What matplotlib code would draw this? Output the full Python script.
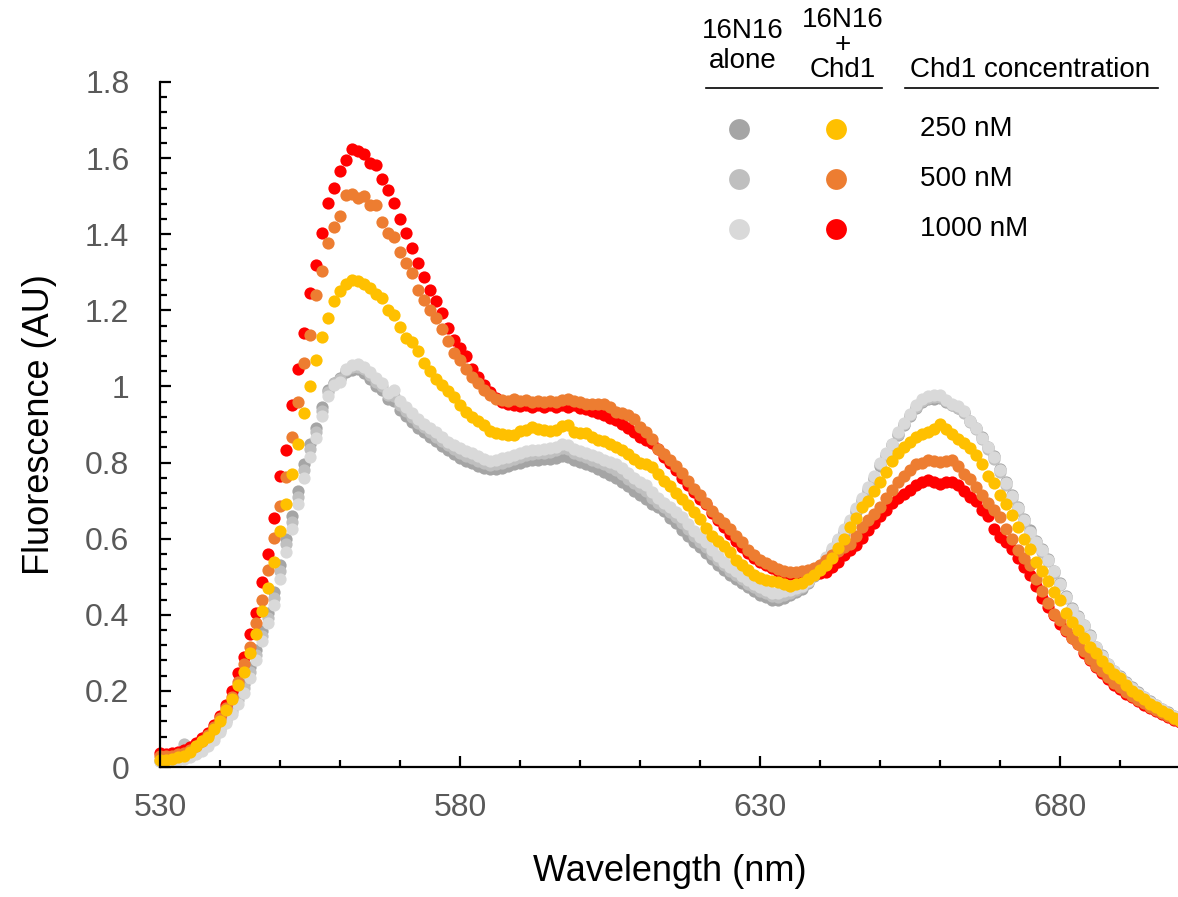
import matplotlib
matplotlib.use("Agg")
import matplotlib.pyplot as plt
from matplotlib.ticker import MultipleLocator, FixedLocator, FuncFormatter
from matplotlib.lines import Line2D

plt.rcParams['font.family'] = ['Liberation Sans', 'DejaVu Sans']

wavelength = list(range(530, 701))
x_major_ticks = [530, 580, 630, 680]

alone_250 = [0.017, 0.016, 0.018, 0.022, 0.026, 0.031, 0.038, 0.049, 0.064, 0.083,
             0.104, 0.128, 0.155, 0.183, 0.218, 0.262, 0.308, 0.358, 0.405, 0.460,
             0.530, 0.598, 0.660, 0.725, 0.795, 0.848, 0.892, 0.945, 0.990, 1.010,
             1.022, 1.038, 1.044, 1.045, 1.036, 1.020, 1.002, 0.990, 0.968, 0.962,
             0.938, 0.922, 0.906, 0.892, 0.880, 0.868, 0.856, 0.844, 0.832, 0.822,
             0.811, 0.804, 0.798, 0.792, 0.786, 0.782, 0.784, 0.785, 0.790, 0.795,
             0.800, 0.805, 0.807, 0.808, 0.809, 0.810, 0.813, 0.818, 0.815, 0.806,
             0.802, 0.796, 0.790, 0.783, 0.776, 0.768, 0.760, 0.750, 0.738, 0.725,
             0.714, 0.704, 0.690, 0.684, 0.672, 0.655, 0.640, 0.624, 0.606, 0.590,
             0.579, 0.563, 0.547, 0.532, 0.518, 0.505, 0.493, 0.483, 0.472, 0.462,
             0.453, 0.446, 0.440, 0.439, 0.444, 0.452, 0.460, 0.468, 0.484, 0.502,
             0.522, 0.545, 0.567, 0.592, 0.616, 0.640, 0.670, 0.698, 0.726, 0.756,
             0.790, 0.818, 0.845, 0.872, 0.898, 0.922, 0.943, 0.958, 0.966, 0.968,
             0.970, 0.960, 0.952, 0.944, 0.932, 0.910, 0.892, 0.868, 0.842, 0.816,
             0.782, 0.748, 0.715, 0.683, 0.652, 0.622, 0.594, 0.572, 0.546, 0.516,
             0.484, 0.450, 0.418, 0.397, 0.374, 0.346, 0.316, 0.293, 0.271, 0.253,
             0.238, 0.223, 0.209, 0.196, 0.184, 0.173, 0.163, 0.153, 0.144, 0.135,
             0.126]

alone_500 = [0.016, 0.015, 0.017, 0.020, 0.060, 0.029, 0.036, 0.046, 0.060, 0.078,
             0.098, 0.122, 0.148, 0.175, 0.208, 0.250, 0.295, 0.345, 0.392, 0.445,
             0.515, 0.585, 0.645, 0.710, 0.780, 0.835, 0.880, 0.935, 0.985, 1.008,
             1.020, 1.042, 1.050, 1.052, 1.045, 1.030, 1.012, 1.000, 0.978, 0.975,
             0.950, 0.935, 0.920, 0.905, 0.893, 0.880, 0.868, 0.856, 0.845, 0.835,
             0.826, 0.818, 0.812, 0.805, 0.798, 0.793, 0.796, 0.800, 0.805, 0.810,
             0.815, 0.820, 0.822, 0.824, 0.826, 0.828, 0.832, 0.838, 0.835, 0.826,
             0.820, 0.815, 0.808, 0.802, 0.795, 0.788, 0.780, 0.770, 0.758, 0.745,
             0.735, 0.724, 0.708, 0.694, 0.682, 0.670, 0.656, 0.642, 0.625, 0.608,
             0.592, 0.577, 0.560, 0.545, 0.530, 0.516, 0.505, 0.493, 0.482, 0.472,
             0.463, 0.456, 0.450, 0.448, 0.452, 0.458, 0.465, 0.472, 0.487, 0.505,
             0.525, 0.548, 0.570, 0.596, 0.620, 0.644, 0.675, 0.702, 0.730, 0.760,
             0.795, 0.822, 0.848, 0.876, 0.902, 0.925, 0.946, 0.962, 0.970, 0.972,
             0.973, 0.962, 0.952, 0.944, 0.930, 0.906, 0.888, 0.862, 0.836, 0.810,
             0.776, 0.742, 0.708, 0.676, 0.645, 0.615, 0.588, 0.566, 0.541, 0.511,
             0.478, 0.445, 0.412, 0.392, 0.369, 0.342, 0.312, 0.290, 0.268, 0.250,
             0.235, 0.220, 0.206, 0.193, 0.181, 0.170, 0.160, 0.150, 0.141, 0.132,
             0.123]

alone_1000 = [0.015, 0.014, 0.016, 0.018, 0.022, 0.027, 0.034, 0.042, 0.055, 0.072,
              0.092, 0.115, 0.140, 0.165, 0.195, 0.235, 0.280, 0.330, 0.378, 0.425,
              0.495, 0.565, 0.625, 0.690, 0.760, 0.815, 0.865, 0.922, 0.975, 1.003,
              1.012, 1.047, 1.056, 1.060, 1.052, 1.038, 1.021, 1.008, 0.982, 0.990,
              0.962, 0.945, 0.929, 0.915, 0.902, 0.890, 0.880, 0.868, 0.855, 0.847,
              0.837, 0.830, 0.826, 0.817, 0.810, 0.804, 0.808, 0.812, 0.815, 0.820,
              0.826, 0.830, 0.833, 0.834, 0.835, 0.838, 0.842, 0.848, 0.846, 0.836,
              0.830, 0.826, 0.820, 0.815, 0.808, 0.802, 0.795, 0.785, 0.772, 0.760,
              0.750, 0.740, 0.722, 0.706, 0.695, 0.684, 0.670, 0.656, 0.638, 0.620,
              0.605, 0.590, 0.570, 0.555, 0.540, 0.526, 0.515, 0.503, 0.492, 0.482,
              0.472, 0.465, 0.458, 0.456, 0.462, 0.465, 0.470, 0.475, 0.490, 0.510,
              0.530, 0.553, 0.575, 0.600, 0.625, 0.648, 0.680, 0.706, 0.735, 0.765,
              0.800, 0.825, 0.850, 0.880, 0.905, 0.928, 0.950, 0.968, 0.975, 0.977,
              0.977, 0.965, 0.955, 0.948, 0.935, 0.910, 0.892, 0.865, 0.840, 0.815,
              0.780, 0.745, 0.712, 0.680, 0.648, 0.618, 0.590, 0.570, 0.545, 0.515,
              0.482, 0.448, 0.415, 0.395, 0.372, 0.345, 0.315, 0.292, 0.270, 0.252,
              0.237, 0.222, 0.208, 0.195, 0.183, 0.172, 0.162, 0.152, 0.143, 0.134,
              0.125]

chd1_1000 = [0.036, 0.035, 0.036, 0.040, 0.045, 0.053, 0.062, 0.075, 0.090, 0.110,
             0.135, 0.163, 0.200, 0.246, 0.290, 0.350, 0.405, 0.486, 0.560, 0.655,
             0.765, 0.833, 0.950, 1.045, 1.141, 1.246, 1.320, 1.404, 1.483, 1.522,
             1.566, 1.595, 1.623, 1.618, 1.612, 1.588, 1.583, 1.544, 1.516, 1.483,
             1.439, 1.404, 1.365, 1.325, 1.287, 1.253, 1.225, 1.192, 1.153, 1.123,
             1.100, 1.080, 1.047, 1.025, 1.004, 0.985, 0.970, 0.958, 0.953, 0.950,
             0.948, 0.950, 0.947, 0.950, 0.946, 0.950, 0.947, 0.952, 0.946, 0.950,
             0.944, 0.940, 0.935, 0.929, 0.925, 0.918, 0.912, 0.902, 0.892, 0.880,
             0.868, 0.860, 0.852, 0.835, 0.815, 0.800, 0.780, 0.760, 0.742, 0.722,
             0.705, 0.690, 0.668, 0.648, 0.630, 0.612, 0.595, 0.578, 0.563, 0.550,
             0.538, 0.530, 0.523, 0.515, 0.510, 0.508, 0.506, 0.506, 0.508, 0.507,
             0.509, 0.513, 0.525, 0.540, 0.556, 0.570, 0.583, 0.602, 0.622, 0.640,
             0.660, 0.676, 0.693, 0.706, 0.718, 0.728, 0.740, 0.748, 0.754, 0.750,
             0.743, 0.749, 0.750, 0.740, 0.725, 0.710, 0.698, 0.675, 0.660, 0.625,
             0.605, 0.590, 0.574, 0.550, 0.525, 0.505, 0.475, 0.445, 0.421, 0.400,
             0.375, 0.357, 0.340, 0.322, 0.300, 0.281, 0.262, 0.246, 0.230, 0.215,
             0.204, 0.193, 0.183, 0.173, 0.163, 0.155, 0.146, 0.139, 0.131, 0.124,
             0.118]

chd1_500 = [0.030, 0.028, 0.030, 0.033, 0.038, 0.045, 0.055, 0.068, 0.085, 0.105,
            0.128, 0.155, 0.185, 0.224, 0.270, 0.316, 0.378, 0.440, 0.518, 0.601,
            0.686, 0.763, 0.866, 0.960, 1.062, 1.135, 1.241, 1.303, 1.376, 1.420,
            1.448, 1.504, 1.507, 1.494, 1.500, 1.477, 1.477, 1.433, 1.404, 1.393,
            1.354, 1.325, 1.297, 1.253, 1.228, 1.202, 1.181, 1.152, 1.120, 1.088,
            1.069, 1.045, 1.025, 1.008, 0.990, 0.977, 0.968, 0.964, 0.962, 0.968,
            0.962, 0.964, 0.960, 0.962, 0.960, 0.961, 0.960, 0.965, 0.968, 0.962,
            0.960, 0.955, 0.953, 0.955, 0.955, 0.945, 0.934, 0.929, 0.925, 0.915,
            0.894, 0.880, 0.862, 0.835, 0.822, 0.807, 0.790, 0.772, 0.752, 0.730,
            0.715, 0.695, 0.672, 0.655, 0.640, 0.625, 0.608, 0.590, 0.570, 0.557,
            0.545, 0.535, 0.527, 0.520, 0.515, 0.513, 0.513, 0.514, 0.518, 0.524,
            0.531, 0.545, 0.558, 0.568, 0.578, 0.587, 0.607, 0.630, 0.650, 0.666,
            0.684, 0.706, 0.728, 0.750, 0.765, 0.780, 0.795, 0.800, 0.806, 0.805,
            0.802, 0.805, 0.806, 0.790, 0.770, 0.758, 0.735, 0.715, 0.695, 0.676,
            0.658, 0.625, 0.598, 0.570, 0.548, 0.530, 0.495, 0.462, 0.430, 0.402,
            0.385, 0.360, 0.338, 0.322, 0.305, 0.284, 0.266, 0.252, 0.236, 0.222,
            0.210, 0.198, 0.187, 0.177, 0.167, 0.158, 0.150, 0.142, 0.135, 0.127,
            0.120]

chd1_250 = [0.018, 0.018, 0.020, 0.025, 0.030, 0.040, 0.055, 0.068, 0.080, 0.100,
            0.122, 0.150, 0.180, 0.215, 0.250, 0.300, 0.350, 0.410, 0.470, 0.540,
            0.620, 0.690, 0.770, 0.850, 0.930, 1.000, 1.070, 1.130, 1.180, 1.225,
            1.250, 1.270, 1.280, 1.278, 1.270, 1.258, 1.243, 1.232, 1.202, 1.188,
            1.157, 1.128, 1.118, 1.093, 1.062, 1.040, 1.020, 1.003, 0.988, 0.972,
            0.951, 0.934, 0.920, 0.908, 0.898, 0.882, 0.878, 0.876, 0.872, 0.873,
            0.882, 0.886, 0.894, 0.888, 0.886, 0.882, 0.885, 0.895, 0.898, 0.880,
            0.877, 0.878, 0.868, 0.860, 0.857, 0.848, 0.840, 0.832, 0.822, 0.810,
            0.800, 0.795, 0.789, 0.770, 0.752, 0.738, 0.720, 0.703, 0.688, 0.670,
            0.652, 0.628, 0.608, 0.595, 0.580, 0.565, 0.545, 0.530, 0.518, 0.505,
            0.497, 0.491, 0.488, 0.485, 0.482, 0.476, 0.480, 0.483, 0.494, 0.505,
            0.517, 0.530, 0.550, 0.575, 0.600, 0.630, 0.655, 0.682, 0.700, 0.725,
            0.750, 0.775, 0.805, 0.825, 0.842, 0.855, 0.866, 0.874, 0.880, 0.887,
            0.900, 0.888, 0.876, 0.862, 0.852, 0.838, 0.820, 0.795, 0.765, 0.745,
            0.716, 0.690, 0.662, 0.630, 0.600, 0.572, 0.540, 0.515, 0.490, 0.460,
            0.440, 0.405, 0.380, 0.360, 0.340, 0.315, 0.300, 0.278, 0.260, 0.245,
            0.233, 0.215, 0.200, 0.188, 0.178, 0.166, 0.157, 0.148, 0.140, 0.128,
            0.120]

concentrations = ["250 nM", "500 nM", "1000 nM"]
alone_colors = ["#A5A5A5", "#BFBFBF", "#D9D9D9"]
chd1_colors = ["#FFC000", "#ED7D31", "#FF0000"]

W, H = 1178, 897
fig = plt.figure(figsize=(W / 100, H / 100), dpi=100)
ax = fig.add_axes([160 / W, 130 / H, 1020 / W, 685 / H])

ms = 8.8
series = [(alone_250, alone_colors[0]), (alone_500, alone_colors[1]),
          (alone_1000, alone_colors[2]), (chd1_1000, chd1_colors[2]),
          (chd1_500, chd1_colors[1]), (chd1_250, chd1_colors[0])]
for vals, col in series:
    ax.plot(wavelength, vals, linestyle='none', marker='o', markersize=ms,
            markerfacecolor=col, markeredgewidth=0, clip_on=False)

ax.set_xlim(530, 700)
ax.set_ylim(0, 1.8)
ax.spines['top'].set_visible(False)
ax.spines['right'].set_visible(False)
for s in ['left', 'bottom']:
    ax.spines[s].set_linewidth(1.6)
    ax.spines[s].set_color('black')

ax.xaxis.set_major_locator(FixedLocator(x_major_ticks))
ax.xaxis.set_minor_locator(MultipleLocator(10))
ax.yaxis.set_major_locator(MultipleLocator(0.2))
ax.yaxis.set_minor_locator(MultipleLocator(0.04))
ax.yaxis.set_major_formatter(FuncFormatter(lambda v, p: f"{v:.1f}".rstrip('0').rstrip('.') if v else "0"))
ax.tick_params(which='both', direction='in', color='black', width=1.6,
               labelsize=23, labelcolor='#595959')
ax.tick_params(which='major', length=8)
ax.tick_params(which='minor', length=5)
ax.tick_params(axis='x', which='major', pad=19)
ax.tick_params(axis='y', which='major', pad=22)

ax.set_xlabel("Wavelength (nm)", fontsize=26, labelpad=22)
ax.set_ylabel("Fluorescence (AU)", fontsize=26, labelpad=20)

# legend table
fs = 20
fig.text(743 / W, 1 - 46 / H, "16N16\nalone", ha='center', va='center',
         fontsize=fs, linespacing=1.15)
fig.text(843 / W, 1 - 45 / H, "16N16\n+\nChd1", ha='center', va='center',
         fontsize=fs, linespacing=0.95)
fig.text(910 / W, 1 - 70 / H, "Chd1 concentration", ha='left', va='center',
         fontsize=fs)
fig.add_artist(Line2D([706 / W, 882 / W], [1 - 88 / H, 1 - 88 / H], color='black', lw=1.2))
fig.add_artist(Line2D([905 / W, 1158 / W], [1 - 88 / H, 1 - 88 / H], color='black', lw=1.2))
rows_y = [129, 179, 229]
for ry, lab, ca, cc in zip(rows_y, concentrations, alone_colors, chd1_colors):
    fig.add_artist(Line2D([739 / W], [1 - ry / H], marker='o', markersize=15,
                          markerfacecolor=ca, markeredgewidth=0, linestyle='none'))
    fig.add_artist(Line2D([836 / W], [1 - ry / H], marker='o', markersize=15,
                          markerfacecolor=cc, markeredgewidth=0, linestyle='none'))
    fig.text(920 / W, 1 - ry / H, lab, ha='left', va='center', fontsize=fs)

fig.savefig("out.png", dpi=100)
